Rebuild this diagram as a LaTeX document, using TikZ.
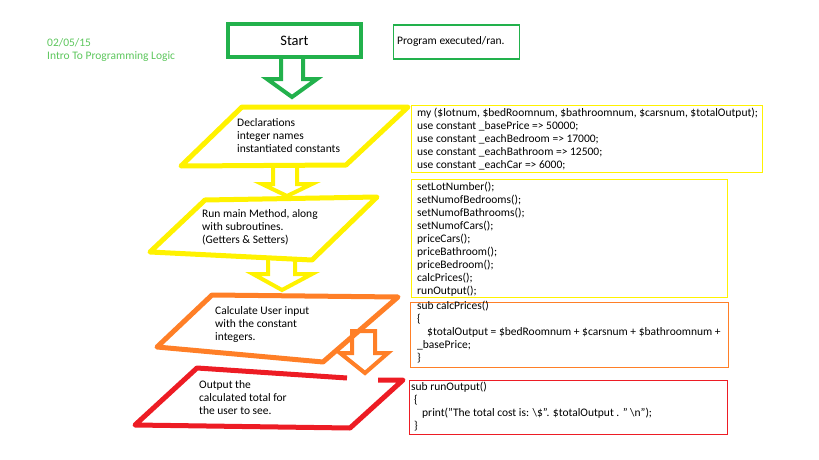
\documentclass[tikz,border=0pt]{standalone}
\usepackage{fontspec}
\setmainfont{Carlito}
\definecolor{pgreen}{HTML}{22B14C}
\definecolor{pyellow}{HTML}{FFF200}
\definecolor{porange}{HTML}{FF7F27}
\definecolor{pred}{HTML}{ED1C24}
\definecolor{dategreen}{HTML}{5CC65C}

\begin{document}
\begin{tikzpicture}[x=1pt,y=-1pt]
\tikzstyle{every node}=[inner sep=0pt]
\tikzstyle{txt}=[anchor=north west, align=left, font=\fontsize{11.5}{13}\selectfont]
\tikzstyle{codebox}=[draw, line width=1.3pt, anchor=north west]
\tikzstyle{para}=[line width=5pt, line join=round]
\tikzstyle{blockarr}=[line width=4pt, line join=miter]
\useasboundingbox (0,0) rectangle (819,460);

\path (47,38.5) node[txt, text=dategreen] (date) {02/05/15\\Intro To Programming Logic};
\path (294.5,40.5) node[draw=pgreen, line width=4pt, minimum width=133pt, minimum height=33pt, font=\fontsize{14.5}{17}\selectfont] (start) {Start};
\path (392.5,24.5) node[codebox, draw=pgreen, minimum width=126pt, minimum height=34pt] (ranbox) {};
\path (397,36.5) node[txt] (ran) {Program executed/ran.};

\draw[para, pyellow] (242,107) -- (408,107) -- (346,165) -- (181,166) -- cycle;
\draw[para, pyellow] (205,200) -- (377,197) -- (312,260) -- (150,252) -- cycle;
\draw[para, porange] (212,295) -- (398,297) -- (323,362) -- (157,347) -- cycle;
\draw[para, pred] (347,378) -- (197,368) -- (135,425) -- (350,428) -- (403,380) -- (378,380);

\draw[blockarr, pgreen] (281,59) -- (281,79) -- (267,79) -- (292,97) -- (317,79) -- (303,79) -- (303,59);
\draw[blockarr, pyellow] (273,166) -- (273,184) -- (262,184) -- (287,196) -- (312,184) -- (297,184) -- (297,166);
\draw[blockarr, pyellow] (268,257) -- (268,274) -- (253,274) -- (282,290) -- (312,274) -- (295,274) -- (295,257);
\draw[blockarr, porange] (352,331) -- (375,331) -- (375,353) -- (388,353) -- (365,373) -- (340,353) -- (352,353) -- cycle;

\path (237,118.5) node[txt] (decl) {Declarations\\integer names\\instantiated constants};
\path (202,209.5) node[txt] (runmain) {Run main Method, along\\with subroutines.\\(Getters \& Setters)};
\path (215,306.5) node[txt] (calc) {Calculate User input\\with the constant\\integers.};
\path (199,380.5) node[txt] (outp) {Output the\\calculated total for\\the user to see.};

\path (410.5,104.5) node[codebox, draw=pyellow, minimum width=351pt, minimum height=67pt] (constbox) {};
\path (417,107.5) node[txt] (consts) {my (\$lotnum, \$bedRoomnum, \$bathroomnum, \$carsnum, \$totalOutput);\\use constant \_basePrice => 50000;\\use constant \_eachBedroom => 17000;\\use constant \_eachBathroom => 12500;\\use constant \_eachCar => 6000;};
\path (410.5,178.5) node[codebox, draw=pyellow, minimum width=316pt, minimum height=118pt] (callbox) {};
\path (417,181.5) node[txt] (calls) {setLotNumber();\\setNumofBedrooms();\\setNumofBathrooms();\\setNumofCars();\\priceCars();\\priceBathroom();\\priceBedroom();\\calcPrices();\\runOutput();};
\path (409.5,301.5) node[codebox, draw=porange, minimum width=318pt, minimum height=65pt] (calcbox) {};
\path (417,301) node[txt] (calcsub) {sub calcPrices()\\\{\\\hspace*{10pt}\$totalOutput = \$bedRoomnum + \$carsnum + \$bathroomnum +\\\_basePrice;\\\}};
\path (408.5,379.5) node[codebox, draw=pred, minimum width=318pt, minimum height=54pt] (outbox) {};
\path (411,381.5) node[txt] (outsub) {sub runOutput()\\\hspace*{3pt}\{\\\hspace*{11pt}print("The total cost is: \textbackslash\$". \$totalOutput . " \textbackslash n");\\\hspace*{3pt}\}};
\end{tikzpicture}
\end{document}
